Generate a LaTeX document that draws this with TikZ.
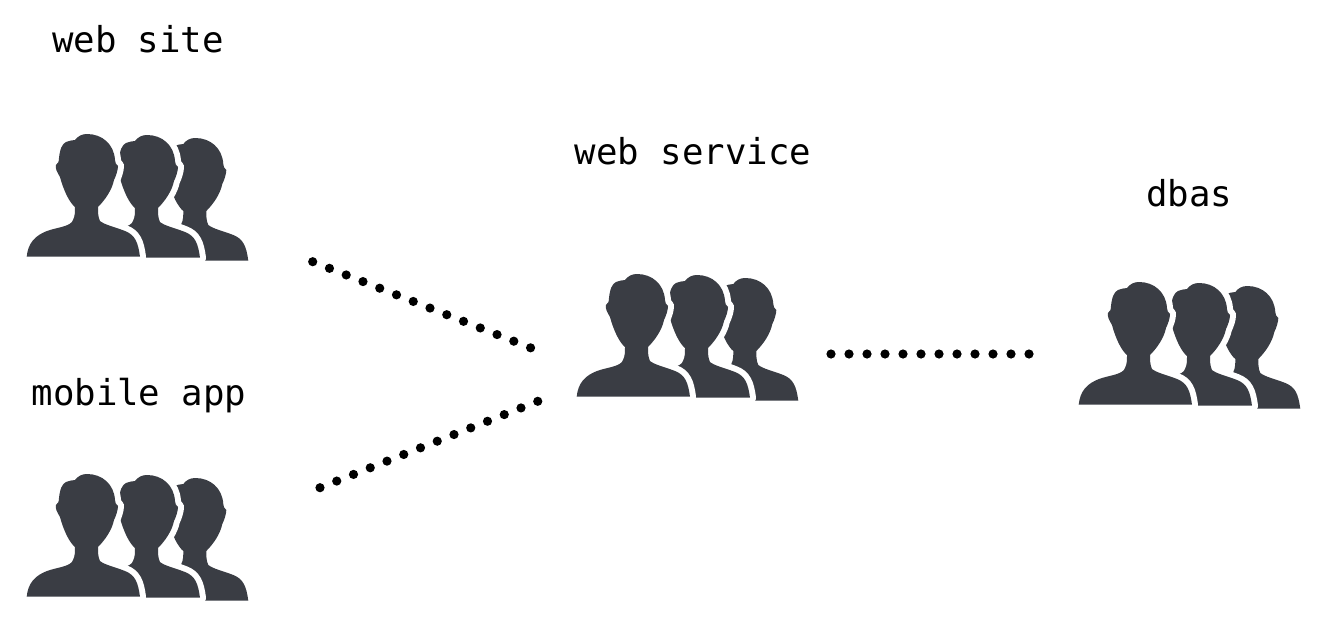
\documentclass[tikz,border=0pt]{standalone}
\usepackage{fontspec}
\setmonofont{DejaVu Sans Mono}
\definecolor{icon}{HTML}{3A3D44}
\tikzset{
  x=1pt,y=-1pt,
  lbl/.style={inner sep=0pt,font=\ttfamily\fontsize{35.7}{40}\selectfont,text=black,anchor=base},
  dotline/.style={line width=9.2pt,line cap=round,dash pattern=on 0pt off #1,black},
  person/.pic={
    \path[fill=icon,preaction={draw=white,line width=12pt,line join=round}]
      (16.7,136.7) .. controls (18,124) and (24,115) .. (40,110)
      .. controls (50,107) and (61,106) .. (63,100)
      .. controls (65,96) and (65,92) .. (65,87)
      .. controls (60,83) and (54,72) .. (50,57)
      .. controls (47,52) and (45,48) .. (46,45)
      .. controls (48,43) and (49,42) .. (49,38)
      .. controls (50,29) and (52,24) .. (56,22)
      .. controls (59,20) and (62,21) .. (65,20)
      .. controls (68,16) and (72,14) .. (77,14)
      .. controls (92,14) and (104,24) .. (105,40)
      .. controls (105,43) and (106,44) .. (108,46)
      .. controls (108,50) and (106,56) .. (104,60)
      .. controls (102,70) and (95,80) .. (88,87)
      .. controls (88,92) and (88,97) .. (90,101)
      .. controls (95,105) and (105,107) .. (115,111)
      .. controls (125,115) and (128,122) .. (130,136.7)
      -- cycle;
  },
  people/.pic={
    \pic at (108.3,4) {person};
    \pic at (60,1) {person};
    \pic at (0,0) {person};
  }
}
\begin{document}
\begin{tikzpicture}
\useasboundingbox (0,0) rectangle (1322,619);
\node[lbl] (l1) at (138,52) {web site};
\node[lbl] (l2) at (139,405) {mobile app};
\node[lbl] (l3) at (693,164) {web service};
\node[lbl] (l4) at (1189,206) {dbas};
\pic at (10,120) {people};
\pic at (10,460) {people};
\pic at (560,260) {people};
\pic at (1062,268) {people};
\coordinate (a1) at (312.7,261.7);
\coordinate (a2) at (531,348);
\coordinate (b1) at (320,487.7);
\coordinate (b2) at (538,401.2);
\coordinate (c1) at (831,354);
\coordinate (c2) at (1030,354);
\draw[dotline=18.02pt] (a1) -- (a2);
\draw[dotline=18.02pt] (b1) -- (b2);
\draw[dotline=18pt] (c1) -- (c2);
\end{tikzpicture}
\end{document}
